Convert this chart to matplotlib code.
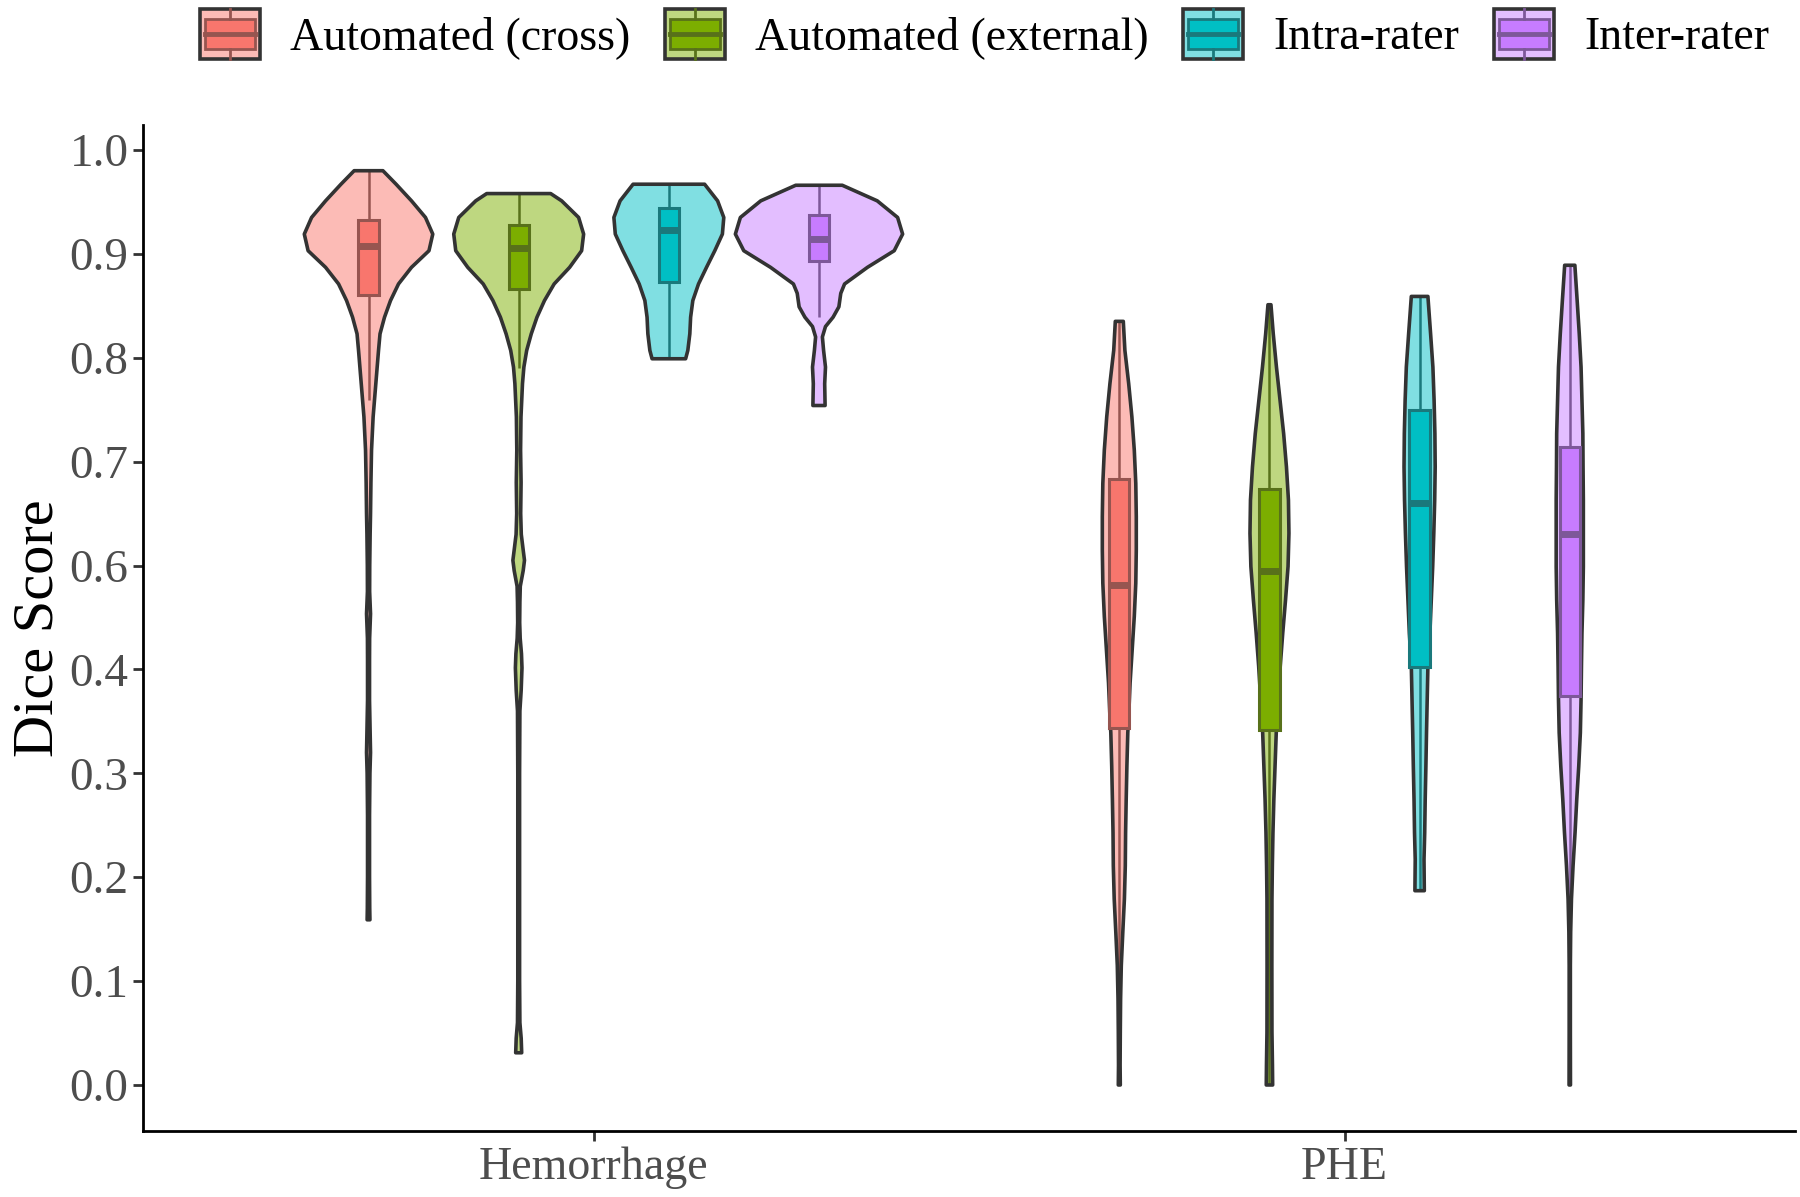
import numpy as np
import matplotlib
matplotlib.use("Agg")
import matplotlib.pyplot as plt
from matplotlib.legend_handler import HandlerBase
from matplotlib.patches import Rectangle, Patch
from matplotlib.lines import Line2D
from matplotlib.colors import to_rgb
from matplotlib.ticker import NullLocator

plt.rcParams['font.family'] = ['Liberation Serif', 'DejaVu Serif']

# ---------------- data ----------------
groups = ['Hemorrhage', 'PHE']
series = ['Automated (cross)', 'Automated (external)', 'Intra-rater', 'Inter-rater']
series_colors = ['#F8766D', '#7CAE00', '#00BFC4', '#C77CFF']
ytick_values = [0.0, 0.1, 0.2, 0.3, 0.4, 0.6, 0.7, 0.8, 0.9, 1.0]

# violin outlines: dice score and relative density (half width)
hem_cross_score = [0.980, 0.967, 0.951, 0.935, 0.919, 0.903, 0.887, 0.871, 0.855, 0.839, 0.823, 0.807,
                   0.775, 0.743, 0.711, 0.68, 0.65, 0.63, 0.60, 0.55, 0.507, 0.46, 0.42, 0.37, 0.34,
                   0.32, 0.30, 0.26, 0.20, 0.17, 0.159]
hem_cross_density = [14.4, 27.6, 43, 57, 64.3, 60.5, 43, 30, 22, 16, 11.5, 10,
                     7.3, 4.6, 3.0, 2.4, 2.0, 1.6, 1.2, 1.1, 2.0, 1.1, 1.0, 1.0, 1.6,
                     2.0, 1.4, 1.0, 1.0, 1.2, 1.4]

hem_ext_score = [0.958, 0.951, 0.935, 0.919, 0.903, 0.887, 0.871, 0.855, 0.839, 0.823, 0.807, 0.791,
                 0.775, 0.743, 0.711, 0.68, 0.65, 0.63, 0.615, 0.605, 0.59, 0.56, 0.53, 0.49, 0.46,
                 0.43, 0.403, 0.38, 0.36, 0.30, 0.20, 0.10, 0.06, 0.045, 0.031]
hem_ext_density = [32, 43, 60, 65, 63, 51, 35.5, 25.8, 18.3, 12.6, 8, 5.2,
                   3.8, 2.3, 1.9, 2.4, 2.0, 2.6, 4.5, 5.8, 4.5, 1.6, 1.2, 1.0, 1.5,
                   2.8, 3.3, 2.5, 1.2, 0.9, 0.9, 0.9, 1.2, 2.5, 3.0]

hem_intra_score = [0.967, 0.951, 0.935, 0.919, 0.903, 0.887, 0.871, 0.855, 0.839, 0.823, 0.807, 0.799]
hem_intra_density = [35.8, 48.8, 55, 53.6, 46, 37.7, 29.7, 24, 21.8, 21, 19, 16.8]

hem_inter_score = [0.966, 0.951, 0.935, 0.919, 0.903, 0.887, 0.871, 0.862, 0.849, 0.839, 0.830, 0.820,
                   0.807, 0.791, 0.775, 0.754]
hem_inter_density = [23.3, 58.3, 78.7, 83.7, 75.3, 48.5, 25.6, 21.8, 19.9, 14.1, 6.5, 3.4,
                     4.6, 6.5, 5.7, 6.1]

phe_cross_score = [0.835, 0.807, 0.775, 0.743, 0.711, 0.679, 0.647, 0.615, 0.566, 0.502, 0.438, 0.387,
                   0.355, 0.339, 0.307, 0.275, 0.243, 0.211, 0.179, 0.147, 0.115, 0.083, 0.051, 0.019, 0.0]
phe_cross_density = [4.0, 5.6, 9.4, 12.6, 15.0, 16.5, 17.0, 17.0, 16.5, 15.0, 12.9, 10.8,
                     9.4, 8.5, 7.6, 6.9, 6.3, 6.0, 5.1, 3.5, 2.0, 1.3, 1.0, 0.8, 1.0]

phe_ext_score = [0.851, 0.823, 0.791, 0.759, 0.727, 0.695, 0.663, 0.631, 0.598, 0.534, 0.470, 0.406,
                 0.371, 0.339, 0.307, 0.275, 0.243, 0.211, 0.179, 0.115, 0.051, 0.019, 0.0]
phe_ext_density = [1.5, 3.8, 7.0, 10.6, 14.2, 17.0, 19.0, 19.5, 18.6, 16.1, 13.3, 10.8,
                   8.8, 6.8, 5.6, 4.4, 3.5, 2.9, 2.5, 2.4, 2.5, 3.0, 3.2]

phe_intra_score = [0.859, 0.823, 0.791, 0.759, 0.727, 0.695, 0.663, 0.631, 0.598, 0.534, 0.470, 0.406,
                   0.371, 0.339, 0.307, 0.275, 0.243, 0.217, 0.187]
phe_intra_density = [8.3, 11.0, 13.3, 14.5, 15.3, 15.6, 15.1, 14.2, 13.1, 11.7, 10.3, 8.3,
                     7.6, 6.9, 6.3, 5.6, 5.1, 4.4, 4.7]

phe_inter_score = [0.889, 0.855, 0.823, 0.791, 0.759, 0.727, 0.695, 0.663, 0.631, 0.598, 0.534, 0.470,
                   0.406, 0.371, 0.339, 0.307, 0.275, 0.243, 0.211, 0.179, 0.147, 0.115, 0.051, 0.0]
phe_inter_density = [5.1, 7.4, 9.5, 11.3, 12.2, 13.1, 13.3, 13.6, 13.6, 13.6, 13.1, 12.2,
                     11.7, 11.3, 10.6, 9.0, 7.0, 5.3, 3.3, 1.7, 0.9, 0.6, 0.6, 0.7]

# box statistics: [whisker low, Q1, median, Q3, whisker high]
hem_cross_box = [0.759, 0.860, 0.9075, 0.933, 0.980]
hem_ext_box = [0.790, 0.866, 0.906, 0.928, 0.958]
hem_intra_box = [0.799, 0.873, 0.923, 0.944, 0.967]
hem_inter_box = [0.839, 0.893, 0.914, 0.937, 0.966]
phe_cross_box = [0.0, 0.344, 0.563, 0.683, 0.835]
phe_ext_box = [0.0, 0.342, 0.590, 0.674, 0.851]
phe_intra_box = [0.187, 0.405, 0.660, 0.750, 0.859]
phe_inter_box = [0.0, 0.374, 0.630, 0.714, 0.889]

violins = {
    ('Hemorrhage', 0): (hem_cross_score, hem_cross_density, hem_cross_box),
    ('Hemorrhage', 1): (hem_ext_score, hem_ext_density, hem_ext_box),
    ('Hemorrhage', 2): (hem_intra_score, hem_intra_density, hem_intra_box),
    ('Hemorrhage', 3): (hem_inter_score, hem_inter_density, hem_inter_box),
    ('PHE', 0): (phe_cross_score, phe_cross_density, phe_cross_box),
    ('PHE', 1): (phe_ext_score, phe_ext_density, phe_ext_box),
    ('PHE', 2): (phe_intra_score, phe_intra_density, phe_intra_box),
    ('PHE', 3): (phe_inter_score, phe_inter_density, phe_inter_box),
}

# ---------------- style ----------------
DENSITY_TO_X = 1.0 / 751.5      # density units -> x-axis units
DODGE = [-0.3, -0.1, 0.1, 0.3]
BOX_HALF = 0.0135
OUTLINE = '#333333'
VIOLIN_LW = 2.6
BOX_LW = 2.2
WHISKER_LW = 1.8
MEDIAN_LW = 5.0


def mix(c, other, t):
    a = np.array(to_rgb(c))
    b = np.array(to_rgb(other))
    return tuple(t * a + (1 - t) * b)


light_colors = [mix(c, 'white', 0.5) for c in series_colors]
dark_colors = [mix(c, OUTLINE, 0.5) for c in series_colors]

W, H = 1800, 1197
fig = plt.figure(figsize=(W / 100, H / 100), dpi=100)
ax_left, ax_right, ax_top, ax_bottom = 143.3, 1795, 125, 1131
ax = fig.add_axes([ax_left / W, 1 - ax_bottom / H, (ax_right - ax_left) / W, (ax_bottom - ax_top) / H])

# y axis: labels skip 0.5, so the scale is piecewise linear between tick labels
_score_knots = [-10.0, 0.0, 0.4, 0.6, 1.0, 10.0]
_pos_knots = [-100.0, 0.0, 4.0, 5.0, 9.0, 99.0]


def _fwd(v):
    return np.interp(v, _score_knots, _pos_knots)


def _inv(p):
    return np.interp(p, _pos_knots, _score_knots)


ax.set_yscale('function', functions=(_fwd, _inv))

for gi, g in enumerate(groups):
    for si in range(4):
        score, dens, box = violins[(g, si)]
        xc = gi + 1 + DODGE[si]
        s = np.array(score)
        hw = np.array(dens) * DENSITY_TO_X
        # violin body, then whiskers, then the violin outline, then the box on top
        ax.fill_betweenx(s, xc - hw, xc + hw, facecolor=light_colors[si], edgecolor='none',
                         linewidth=0, zorder=2)
        wlo, q1, med, q3, whi = box
        ax.vlines(xc, wlo, q1, color=dark_colors[si], linewidth=WHISKER_LW, zorder=2.5)
        ax.vlines(xc, q3, whi, color=dark_colors[si], linewidth=WHISKER_LW, zorder=2.5)
        ax.fill_betweenx(s, xc - hw, xc + hw, facecolor='none', edgecolor=OUTLINE,
                         linewidth=VIOLIN_LW, joinstyle='round', zorder=2.7)
        ax.bar(xc, q3 - q1, bottom=q1, width=2 * BOX_HALF, color=series_colors[si],
               edgecolor=dark_colors[si], linewidth=BOX_LW, zorder=3)
        ax.hlines(med, xc - BOX_HALF, xc + BOX_HALF, color=dark_colors[si], linewidth=MEDIAN_LW, zorder=4)

ax.set_xlim(0.4, 2.6)
ax.set_ylim(-0.0443, 1.024)
ax.set_yticks(ytick_values)
ax.set_yticklabels([f'{v:.1f}' for v in ytick_values])
ax.yaxis.set_minor_locator(NullLocator())
ax.set_xticks([1, 2])
ax.set_xticklabels(groups)

for side in ['top', 'right']:
    ax.spines[side].set_visible(False)
for side in ['left', 'bottom']:
    ax.spines[side].set_linewidth(2.0)
    ax.spines[side].set_color('black')
ax.tick_params(axis='both', length=7.2, width=2.0, color='#333333', labelcolor='#4D4D4D')
ax.tick_params(axis='y', labelsize=34, pad=3.4)
ax.tick_params(axis='x', labelsize=33, pad=4)

ax.set_ylabel('Dice Score', fontsize=42, color='black')
ax.yaxis.set_label_coords(-0.048, 0.5)


# ---------------- legend ----------------
class BoxKeyHandler(HandlerBase):
    def __init__(self, idx):
        super().__init__()
        self.idx = idx

    def create_artists(self, legend, orig_handle, xdescent, ydescent, width, height, fontsize, trans):
        i = self.idx
        x0, y0 = -xdescent, -ydescent
        outer = Rectangle((x0, y0), width, height, facecolor=light_colors[i], edgecolor=OUTLINE,
                          linewidth=2.6, transform=trans)
        bx0, bx1 = x0 + 0.083 * width, x0 + 0.917 * width
        by0, by1 = y0 + 0.205 * height, y0 + 0.79 * height
        inner = Rectangle((bx0, by0), bx1 - bx0, by1 - by0, facecolor=series_colors[i],
                          edgecolor=dark_colors[i], linewidth=2.0, transform=trans)
        med = Line2D([bx0, bx1], [y0 + 0.5 * height] * 2, color=dark_colors[i], linewidth=3.5,
                     transform=trans)
        w1 = Line2D([x0 + 0.5 * width] * 2, [y0, by0], color=dark_colors[i], linewidth=2.0,
                    transform=trans)
        w2 = Line2D([x0 + 0.5 * width] * 2, [by1, y0 + height], color=dark_colors[i], linewidth=2.0,
                    transform=trans)
        return [outer, inner, w1, w2, med]


handles = [Patch() for _ in series]
hmap = {h: BoxKeyHandler(i) for i, h in enumerate(handles)}
fig.legend(handles, series, handler_map=hmap, loc='center', bbox_to_anchor=(984.5 / W, 1 - 34 / H),
           ncol=4, frameon=False, fontsize=33, handlelength=1.31, handleheight=1.31,
           handletextpad=0.655, columnspacing=0.76, borderpad=0, borderaxespad=0)

fig.savefig('out.png', dpi=100, facecolor='white')
